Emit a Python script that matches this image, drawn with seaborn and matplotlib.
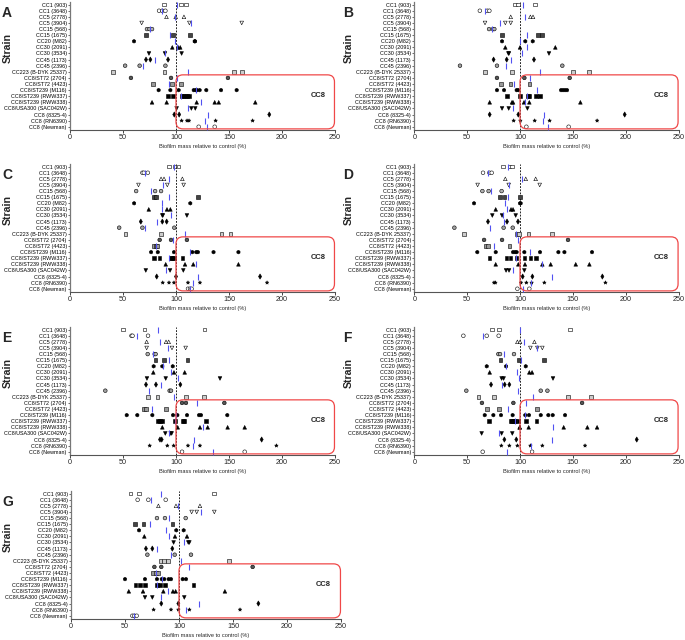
import numpy as np
import pandas as pd
import matplotlib.pyplot as plt
import seaborn as sns
from matplotlib.patches import FancyBboxPatch

sns.set_style('ticks')
plt.rcParams['font.family'] = ['Liberation Sans', 'DejaVu Sans']

strains = ['CC1 (903)', 'CC1 (3648)', 'CC5 (2778)', 'CC5 (3904)', 'CC15 (568)', 'CC15 (1675)',
           'CC20 (M82)', 'CC30 (2091)', 'CC30 (3534)', 'CC45 (1173)', 'CC45 (2396)',
           'CC223 (B-DYK 25337)', 'CC8/ST72 (2704)', 'CC8/ST72 (4423)', 'CC8/ST239 (M116)',
           'CC8/ST239 (RWW337)', 'CC8/ST239 (RWW338)', 'CC8/USA300 (SAC042W)', 'CC8 (8325-4)',
           'CC8 (RN6390)', 'CC8 (Newman)']

# marker shape and face colour for every strain
marker_list = ['s', 'o', '^', 'v', 'o', 's', 'h', '^', 'v', 'd', 'o', 's', 'o', 's', 'h', 's', '^', 'v', 'd', '*', 'o']
face_list = ['white', 'white', 'white', 'white', '#b0b0b0', '#444444', 'black', 'black', 'black', 'black',
             '#a0a0a0', '#cccccc', '#555555', '#999999', 'black', 'black', 'black', 'black', 'black', 'black', 'white']

panel_a = [[88.7, 104.4, 109.4], [84, 87, 90], [91, 99.7, 107.5], [67.6, 112.6, 162], [72.6, 75, 77.4],
           [71.7, 97, 113.5], [60.4, 117.6, 118], [96.5, 102, 104], [74.5, 89.6, 105.3], [71.7, 75.8, 92.5],
           [52, 65.7, 90], [40.6, 89.3, 154.4, 162], [57.5, 95.3, 149], [78, 96.5, 105],
           [83.6, 94.7, 102.5, 116.7, 118.6, 119.8, 122.3, 128.6, 142.5, 157.2],
           [92.5, 97.2, 105.3, 107, 108.5, 110.4, 112], [77.4, 91.2, 119.5, 136.5, 140.3, 174.8],
           [100.6, 114.5, 118.2], [98.4, 103, 188], [105.3, 110.4, 112.3, 137.4, 172.3], [121.4, 136.5]]

panel_b = [[95.3, 97.8, 114.2], [62, 69, 71], [91.2, 109.8, 112.3], [66.9, 86.1, 91.2], [70.7, 74.4, 75.7],
           [83, 117.3, 120.5], [83, 105, 112], [86.1, 100, 133.4], [89, 89.5, 127.4], [75, 87.4, 113.2],
           [43.2, 78.2, 140], [66.9, 92.1, 150.2, 165.3], [78.2, 104.1, 147], [82.3, 90.9, 109.1],
           [78.2, 84.9, 96.8, 98.4, 138.8, 140.7, 142.6, 144.5],
           [87.7, 100, 107.3, 108.5, 114.8, 119.2], [71.3, 92.4, 93.4, 103.8, 108.8, 157.1],
           [83, 89.3, 107], [71.3, 98.4, 199], [94, 100.3, 113.9, 128, 172.9], [106, 146]]

panel_c = [[93.4, 98.7, 102.5], [68.3, 69.6, 73.4], [85.9, 88.7, 106], [64.6, 91.8, 107.2], [62.4, 80.3, 85.9],
           [79.3, 80.9, 121], [60.5, 113.5], [74.3, 91.5, 94.7], [87.1, 87.6, 110.3], [66.8, 87.1, 91.2],
           [46.4, 68.3, 98.4], [52.4, 85.6, 143, 151.4], [84.6, 95.3, 110.3], [79.3, 80.9, 81.8],
           [76.5, 82.8, 98.1, 115.4, 119.1, 120.7, 135.4, 158.9],
           [79.3, 84.3, 95, 96.2, 98.1, 106], [90.3, 108.5, 116.3, 158.9],
           [71.5, 94.4, 106.9], [81.8, 100, 179.3], [87.5, 93.4, 98.1, 111.3, 122.6, 185.9], [111.3, 113.2, 114.7]]

panel_d = [[83.6, 89.9, 92.7], [65, 71, 73.2], [86.1, 105.4, 114.8], [59.9, 89.3, 118.6], [64.4, 70.3, 82.6],
           [81, 85.2, 100], [56.5, 100, 100.6], [77, 91.5, 93.4], [73.8, 83, 95.9], [69.7, 87.7, 98.1],
           [37.9, 84.5, 93.1], [47, 97, 99, 108, 130], [66, 83, 145.4], [67.5, 69.5, 89.9],
           [59.6, 77, 93.4, 95.3, 96.8, 104.1, 118.9, 136.3, 142, 168.1],
           [71, 87.1, 90.9, 96.8, 104.1, 109.8, 114.8], [77, 98.4, 104.7, 121.1, 129, 152.7, 165.6],
           [86.8, 89.6, 104.1], [102.5, 111.7, 177.9], [75.4, 76.7, 100.9, 106, 111, 123, 180.8], [97.5, 108.8]]

panel_e = [[50.3, 70.4, 127], [58, 59, 73.6], [72.3, 90.6, 93.1], [72.3, 96.2, 109.1], [73.3, 79.9, 80.8],
           [80.8, 88.7, 111], [78.9, 87.1, 96.9], [78.6, 98.1, 108.2], [72.6, 90.3, 141.5], [71.7, 81.1, 104.1],
           [33.3, 94, 95.3], [73.3, 82.4, 109.4, 126.4], [105.7, 109.4, 145.6], [70, 71.5, 90.3],
           [53.5, 63.5, 77.7, 97.2, 101.3, 110.4, 121.7, 123.6, 148.4],
           [83.3, 84.9, 86.8, 99.1, 106.3, 107.5, 128.3], [87.1, 101.6, 122.6, 129.9, 148.7, 164.8],
           [89.9, 95, 95.9], [84.9, 86.5, 180.8], [75.2, 91.8, 97.8, 111.3, 122.6, 194.7], [105.7, 164.8]]

panel_f = [[73.8, 79.8, 147.3], [46.4, 68.5, 79.8], [97.5, 100, 113.6], [109.8, 116.4, 121.1], [79.5, 81.1, 94.3],
           [81.4, 98.7, 122.4], [68.5, 86.8, 105.4], [71.3, 108.8, 111.4], [82.6, 84.5, 131.2], [72.6, 85.5, 89.9],
           [49.2, 119.6, 125.9], [60.6, 75.4, 145.4, 166.9], [64, 93.7, 158.7], [69, 79.8, 115.8],
           [66.6, 74.8, 82, 93, 105, 108.5, 119.6, 126.8, 130.9, 142.6],
           [70.7, 91.5, 92.7, 94, 95.3, 98.7, 105.7, 115.5], [99.7, 99.7, 108.2, 141.3, 163.7, 172.9],
           [63.7, 82.6, 92.7], [85.2, 96.5, 210.4], [82.3, 89.9, 97.5, 109.8, 121.1, 161.5], [64.7, 111.4]]

panel_g = [[55.2, 63, 132.1], [61.7, 71.6, 87.7], [80.9, 97.2, 119.4], [111.7, 116.4, 132.7], [79.6, 87, 106.2],
           [59.3, 67, 94.1], [63, 97.5, 104.3], [67.9, 96.3, 107.4], [95, 108.6, 109.6], [69.4, 75.3, 93.8],
           [70.7, 96, 111.1], [83, 86.4, 90.1, 146.6], [77.2, 83.6, 168.2], [76.2, 78.7, 80.6],
           [50, 68.5, 79.6, 84, 86.4, 90.4, 92.6, 103.4, 106.5],
           [59.6, 64.2, 68.5, 79.6, 82.7, 87, 113.3], [53.5, 66.7, 85.5, 94.4, 96.9, 142.5],
           [68.5, 75.3, 104.9], [83.6, 99.4, 173.5], [76.5, 92.6, 99.4, 109.6, 156.5], [56.8, 58.6, 60.8]]

panels = {'A': panel_a, 'B': panel_b, 'C': panel_c, 'D': panel_d, 'E': panel_e, 'F': panel_f, 'G': panel_g}

rows = []
for name, vals in panels.items():
    for i, v in enumerate(vals):
        for x in v:
            rows.append((name, i, strains[i], x))
df = pd.DataFrame(rows, columns=['panel', 'row', 'strain', 'value'])

marker_map = dict(zip(strains, marker_list))
face_map = dict(zip(strains, face_list))

W, H = 685, 640
fig = plt.figure(figsize=(W / 100, H / 100), dpi=100)

# (left px, top px, width px) for every panel
layout = {'A': (70, 1.6, 265), 'B': (414.3, 1.6, 264.3),
          'C': (70, 163.6, 265), 'D': (414.3, 163.6, 264.3),
          'E': (70, 326.6, 265), 'F': (414.3, 326.6, 264.3),
          'G': (71, 490.6, 270)}
ax_h = 128.2

for name, (l, t, w) in layout.items():
    ax = fig.add_axes([l / W, 1 - (t + ax_h) / H, w / W, ax_h / H])
    sub = df[df['panel'] == name]
    ax.axvline(100, color='black', ls=(0, (2.2, 1.6)), lw=0.6, zorder=1)
    sns.scatterplot(data=sub, x='value', y='row', hue='strain', style='strain',
                    markers=marker_map, palette=face_map, edgecolor='black', linewidth=0.4,
                    s=7, legend=False, ax=ax, zorder=3)
    means = sub.groupby('row')['value'].mean()
    sns.scatterplot(x=means.values, y=means.index, marker='|', color='#5252f2',
                    s=15, linewidth=0.8, legend=False, ax=ax, zorder=4)

    ax.set_xlim(0, 250)
    ax.set_ylim(20.5, -0.5)
    ax.set_yticks(range(len(strains)))
    ax.set_yticklabels(strains, fontsize=3.9)
    ax.set_xticks(range(0, 251, 50))
    ax.tick_params(axis='x', labelsize=5.2, length=2, width=0.6, pad=1)
    ax.tick_params(axis='y', length=1.5, width=0.6, pad=0.8, colors='#555555', labelcolor='black')
    ax.set_xlabel('Biofilm mass relative to control (%)', fontsize=4.1, labelpad=2.5)
    ax.set_ylabel('')
    ax.spines['top'].set_visible(False)
    ax.spines['right'].set_visible(False)
    ax.spines['left'].set_color('#777777')
    ax.spines['left'].set_linewidth(0.9)
    ax.spines['bottom'].set_color('#555555')
    ax.spines['bottom'].set_linewidth(0.8)

    # rounded red frame around the CC8 strains, drawn in pixels so corners stay round
    x0, y0 = ax.transData.transform((100, 20.35))
    x1, y1 = ax.transData.transform((249.5, 11.5))
    box = FancyBboxPatch((x0, y0), x1 - x0, y1 - y0, boxstyle='round,pad=0,rounding_size=7',
                         transform=None, fill=False, ec='#f04848', lw=0.9, zorder=2)
    fig.add_artist(box)
    ax.text(234, 14.9, 'CC8', fontsize=5.5, fontweight='bold', ha='center', va='center')

    col_x = 2 if l < 200 else 343
    fig.text(col_x / W, 1 - (t + 4) / H, name, fontsize=10, fontweight='bold', va='top', ha='left')
    fig.text((col_x + 5.5) / W, 1 - (t + 46) / H, 'Strain', fontsize=7.6, fontweight='bold',
             rotation=90, va='center', ha='center')

fig.savefig('out.png', dpi=100)
